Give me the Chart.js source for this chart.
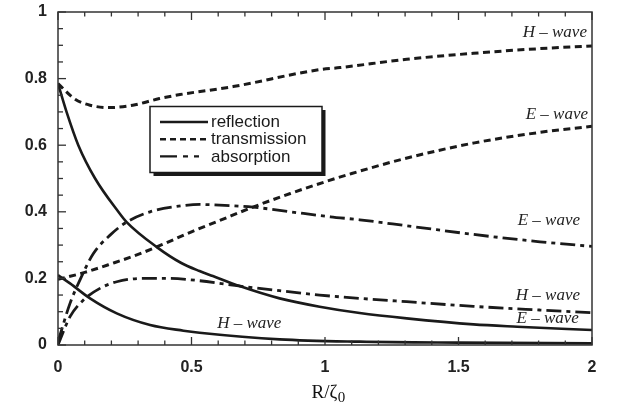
<!DOCTYPE html>
<html>
<head>
<meta charset="utf-8">
<script src="https://cdn.jsdelivr.net/npm/chart.js@4.4.1/dist/chart.umd.min.js"></script>
<style>
  html, body { margin: 0; padding: 0; background: #fff; }
</style>
</head>
<body>
<canvas id="chart" width="623" height="414"></canvas>
<script>
// values (x = R/zeta0)
const reflectionE_x = [0, 0.032, 0.076, 0.139, 0.226, 0.257, 0.37, 0.46, 0.53, 0.58, 0.68, 0.83, 0.98, 1.13, 1.306, 1.556, 1.72, 2];
const reflectionE_y = [0.785, 0.70, 0.60, 0.50, 0.40, 0.369, 0.294, 0.247, 0.222, 0.207, 0.177, 0.14, 0.115, 0.096, 0.08, 0.062, 0.055, 0.045];

const reflectionH_x = [0, 0.045, 0.12, 0.22, 0.345, 0.47, 0.53, 0.83, 1.13, 1.5, 2];
const reflectionH_y = [0.21, 0.185, 0.14, 0.095, 0.06, 0.043, 0.037, 0.017, 0.01, 0.007, 0.005];

const transmissionH_x = [0, 0.064, 0.12, 0.19, 0.28, 0.38, 0.457, 0.656, 0.98, 1.056, 1.306, 1.556, 1.805, 2];
const transmissionH_y = [0.785, 0.738, 0.72, 0.713, 0.72, 0.74, 0.752, 0.776, 0.827, 0.833, 0.858, 0.876, 0.89, 0.898];

const transmissionE_x = [0, 0.1, 0.2, 0.3, 0.4, 0.5, 0.6, 0.73, 0.87, 1.0, 1.1, 1.3, 1.56, 1.8, 2];
const transmissionE_y = [0.197, 0.218, 0.244, 0.272, 0.305, 0.34, 0.372, 0.414, 0.455, 0.49, 0.515, 0.56, 0.607, 0.638, 0.657];

const absorptionE_x = [0, 0.045, 0.082, 0.132, 0.195, 0.257, 0.345, 0.444, 0.532, 0.58, 0.73, 0.87, 1.02, 1.13, 1.306, 1.556, 1.805, 2];
const absorptionE_y = [0.01, 0.125, 0.195, 0.274, 0.33, 0.369, 0.40, 0.416, 0.422, 0.421, 0.414, 0.40, 0.385, 0.376, 0.358, 0.332, 0.31, 0.296];

const absorptionH_x = [0, 0.045, 0.095, 0.157, 0.22, 0.32, 0.42, 0.53, 0.67, 0.83, 0.98, 1.13, 1.306, 1.556, 1.805, 2];
const absorptionH_y = [0, 0.085, 0.135, 0.17, 0.19, 0.2, 0.2, 0.193, 0.178, 0.163, 0.15, 0.14, 0.13, 0.116, 0.105, 0.097];

const xTickValues = [0, 0.5, 1, 1.5, 2];
const xTickLabels = ['0', '0.5', '1', '1.5', '2'];
const yTickValues = [0, 0.2, 0.4, 0.6, 0.8, 1];
const yTickLabels = ['0', '0.2', '0.4', '0.6', '0.8', '1'];

const legendLabels = ['reflection', 'transmission', 'absorption'];

const INK = '#1a1a1a';
const DASH_T = [7, 4.5];
const DASH_A = [15, 5, 4, 5];

// curve labels, placed in data coordinates
const waveLabels = [
  { text: 'H \u2013 wave', x: 1.981, y: 0.937, align: 'right' },
  { text: 'E \u2013 wave', x: 1.985, y: 0.692, align: 'right' },
  { text: 'E \u2013 wave', x: 1.955, y: 0.374, align: 'right' },
  { text: 'H \u2013 wave', x: 1.955, y: 0.150, align: 'right' },
  { text: 'E \u2013 wave', x: 1.951, y: 0.080, align: 'right' },
  { text: 'H \u2013 wave', x: 0.596, y: 0.063, align: 'left' }
];

function pts(xs, ys) {
  return xs.map(function(v, i) { return { x: v, y: ys[i] }; });
}

function curve(xs, ys, dash, width) {
  return {
    data: pts(xs, ys),
    borderColor: INK,
    borderWidth: width,
    borderDash: dash,
    pointRadius: 0,
    fill: false,
    cubicInterpolationMode: 'monotone'
  };
}

const framePlugin = {
  id: 'frame',
  afterDatasetsDraw(chart) {
    const ctx = chart.ctx, a = chart.chartArea;
    const xs = chart.scales.x, ys = chart.scales.y;

    function seg(x1, y1, x2, y2) {
      ctx.beginPath(); ctx.moveTo(x1, y1); ctx.lineTo(x2, y2); ctx.stroke();
    }

    ctx.save();
    ctx.strokeStyle = '#333';
    ctx.lineWidth = 1.5;
    ctx.strokeRect(a.left, a.top, a.right - a.left, a.bottom - a.top);

    // inward ticks
    ctx.lineWidth = 1.3;
    for (let i = 0; i <= 20; i++) {
      const px = xs.getPixelForValue(i / 10);
      const len = i % 5 === 0 ? 8 : 4.5;
      seg(px, a.bottom, px, a.bottom - len);
      seg(px, a.top, px, a.top + len);
    }
    for (let i = 0; i <= 20; i++) {
      const py = ys.getPixelForValue(i * 0.05);
      const len = i % 4 === 0 ? 8 : 5;
      seg(a.left, py, a.left + len, py);
    }

    // curve labels
    ctx.fillStyle = '#222';
    ctx.font = 'italic 17px "Liberation Serif", "DejaVu Serif", serif';
    ctx.textBaseline = 'middle';
    waveLabels.forEach(function(l) {
      ctx.textAlign = l.align;
      ctx.fillText(l.text, xs.getPixelForValue(l.x), ys.getPixelForValue(l.y));
    });

    // legend box with shadow
    const bx = a.left + 92, by = a.top + 94.5, bw = 172, bh = 66;
    ctx.fillStyle = '#1a1a1a';
    ctx.fillRect(bx + 3.5, by + 3.5, bw, bh);
    ctx.fillStyle = '#fff';
    ctx.fillRect(bx, by, bw, bh);
    ctx.strokeStyle = '#1a1a1a';
    ctx.lineWidth = 1.5;
    ctx.strokeRect(bx, by, bw, bh);

    const dashes = [[], [6, 4], [17, 6, 5, 6, 5, 100]];
    ctx.font = '17px "Liberation Sans", Arial, sans-serif';
    ctx.textAlign = 'left';
    ctx.fillStyle = INK;
    legendLabels.forEach(function(t, i) {
      const ry = by + 15.5 + i * 17.2;
      ctx.strokeStyle = INK;
      ctx.lineWidth = 2.4;
      ctx.setLineDash(dashes[i]);
      seg(bx + 10, ry, bx + 58, ry);
      ctx.setLineDash([]);
      ctx.fillText(t, bx + 61, ry + 0.5);
    });

    // axis title R/zeta0
    const tx = (a.left + a.right) / 2 - 13.5, tb = a.bottom + 53;
    ctx.fillStyle = '#111';
    ctx.font = '19px "Liberation Serif", "DejaVu Serif", serif';
    ctx.textBaseline = 'alphabetic';
    ctx.fillText('R/\u03b6', tx, tb);
    const w = ctx.measureText('R/\u03b6').width;
    ctx.font = '15px "Liberation Serif", "DejaVu Serif", serif';
    ctx.fillText('0', tx + w + 0.5, tb + 3.5);
    ctx.restore();
  }
};

const tickFont = { family: '"Liberation Sans", Arial, sans-serif', size: 16, weight: 'bold' };

new Chart(document.getElementById('chart'), {
  type: 'line',
  data: {
    datasets: [
      curve(reflectionE_x, reflectionE_y, [], 2.6),
      curve(reflectionH_x, reflectionH_y, [], 2.6),
      curve(transmissionH_x, transmissionH_y, DASH_T, 3),
      curve(transmissionE_x, transmissionE_y, DASH_T, 3),
      curve(absorptionE_x, absorptionE_y, DASH_A, 2.8),
      curve(absorptionH_x, absorptionH_y, DASH_A, 2.8)
    ]
  },
  options: {
    responsive: false,
    animation: false,
    layout: { padding: { top: 12, right: 31, left: 0, bottom: 0 } },
    plugins: { legend: { display: false }, tooltip: { enabled: false } },
    scales: {
      x: {
        type: 'linear', min: 0, max: 2,
        grid: { display: false, drawTicks: false },
        border: { display: false },
        afterBuildTicks: function(s) { s.ticks = xTickValues.map(function(v) { return { value: v }; }); },
        afterFit: function(s) { s.height = 69; s.paddingLeft = 0; s.paddingRight = 0; },
        ticks: {
          padding: 13, color: '#222', font: tickFont, maxRotation: 0,
          callback: function(v, i) { return xTickLabels[i]; }
        }
      },
      y: {
        type: 'linear', min: 0, max: 1,
        grid: { display: false, drawTicks: false },
        border: { display: false },
        afterBuildTicks: function(s) { s.ticks = yTickValues.map(function(v) { return { value: v }; }); },
        afterFit: function(s) { s.width = 58; s.paddingTop = 0; s.paddingBottom = 0; },
        ticks: {
          padding: 11, color: '#222', font: tickFont,
          callback: function(v, i) { return yTickLabels[i]; }
        }
      }
    }
  },
  plugins: [framePlugin]
});
</script>
</body>
</html>
